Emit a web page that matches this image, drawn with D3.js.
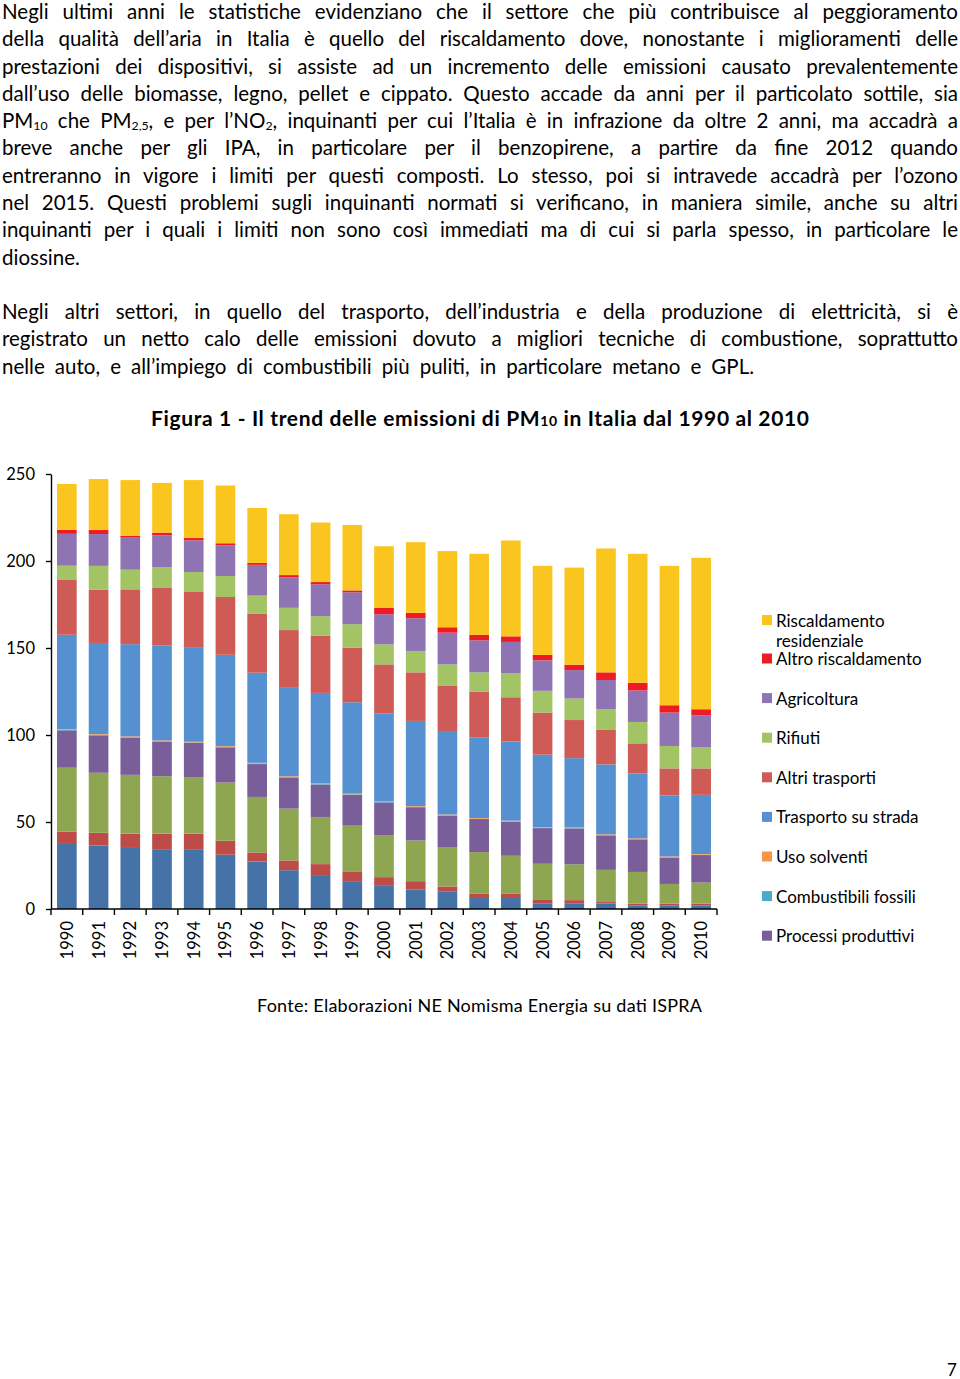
<!DOCTYPE html>
<html>
<head>
<meta charset="utf-8">
<script src="https://cdn.jsdelivr.net/npm/d3@7"></script>
<style>
  body { margin: 0; background: #fff; }
  #page { position: relative; width: 960px; height: 1379px; overflow: hidden; font-family: Lato, "Open Sans", sans-serif; color: #000; }
  .line { position: absolute; left: 2px; font-size: 20.5px; line-height: 20px; text-align: justify; text-align-last: justify; }
  .line.last { text-align-last: left; }
  .line sub { font-size: 0.6em; vertical-align: -0.2em; line-height: 0; }
  svg { position: absolute; left: 0; top: 0; }
  svg text { font-family: Lato, "Open Sans", sans-serif; fill: #000; }
</style>
</head>
<body>
<div id="page"></div>
<script>
// years on the x axis
const years = ["1990","1991","1992","1993","1994","1995","1996","1997","1998","1999","2000",
               "2001","2002","2003","2004","2005","2006","2007","2008","2009","2010"];

// PM10 emissions by sector (kt), bottom of the stack first
// the three bottom series have no entry in the legend of the original
const produzioneEnergia    = [37.9,36.5,35.6,34.0,34.0,31.2,27.3,22.3,19.0,16.0,13.7,11.3,10.2,6.3,6.3,3.3,3.3,3.1,1.9,1.9,1.9];
const combustioneIndustria = [6.5,7.3,7.7,9.3,9.3,8.0,5.2,5.6,6.8,5.3,4.6,4.7,2.7,2.4,2.4,1.9,1.8,0.9,1.2,1.2,1.2];
const altreFonti           = [36.8,34.5,33.8,33.0,32.5,33.5,31.9,29.8,27.1,26.6,24.2,23.4,22.7,24.0,21.9,20.8,20.6,18.5,18.2,11.3,12.1];
const processiProduttivi   = [21.5,21.5,21.4,19.9,19.6,20.2,18.9,17.9,18.6,17.7,18.8,19.1,18.1,19.0,19.6,20.5,20.6,19.8,18.7,15.2,15.8];
const combustibiliFossili  = [0.3,0.3,0.3,0.3,0.3,0.3,0.3,0.3,0.3,0.3,0.2,0.2,0.2,0.2,0.2,0.2,0.2,0.2,0.2,0.2,0.2];
const usoSolventi          = [0.4,0.4,0.4,0.4,0.4,0.4,0.4,0.4,0.4,0.4,0.4,0.4,0.4,0.4,0.4,0.4,0.4,0.4,0.4,0.4,0.4];
const trasportoStrada      = [54.2,52.4,53.0,54.5,54.0,52.5,51.8,50.8,52.0,52.5,50.4,49.0,48.0,46.2,45.5,41.6,39.8,40.2,37.3,35.0,34.0];
const altriTrasporti       = [31.5,30.7,31.5,33.1,32.1,33.2,33.8,33.2,32.8,31.3,28.3,27.9,26.2,26.3,25.4,24.2,21.9,19.8,17.3,15.6,15.2];
const rifiuti              = [8.2,13.6,11.3,12.0,11.5,12.1,10.5,12.8,11.3,13.6,11.5,12.3,12.1,11.2,13.7,12.5,12.4,11.9,12.3,12.9,12.3];
const agricoltura          = [18.3,18.3,18.4,18.3,18.2,17.5,17.7,17.6,18.3,18.3,17.3,18.8,18.2,18.4,18.1,17.5,16.3,16.8,18.1,19.2,18.2];
const altroRiscaldamento   = [2.3,2.3,1.2,1.5,1.3,1.3,1.1,1.2,1.3,1.1,3.6,3.1,3.1,3.1,3.2,3.1,3.1,4.4,4.4,4.2,3.5];
const riscResidenziale     = [26.4,29.3,31.9,28.6,33.3,33.2,31.6,35.0,34.2,37.6,35.5,40.6,43.8,46.6,55.1,51.2,55.8,71.2,74.1,80.1,87.0];

const seriesKeys = ["Produzione energia","Combustione industria","Altre fonti","Processi produttivi",
  "Combustibili fossili","Uso solventi","Trasporto su strada","Altri trasporti","Rifiuti",
  "Agricoltura","Altro riscaldamento","Riscaldamento residenziale"];
const seriesValues = [produzioneEnergia, combustioneIndustria, altreFonti, processiProduttivi,
  combustibiliFossili, usoSolventi, trasportoStrada, altriTrasporti, rifiuti,
  agricoltura, altroRiscaldamento, riscResidenziale];
const seriesColors = ["#4573a8","#bd4c48","#8ea651","#795e9a","#4bacc6","#f79646",
  "#5590d0","#cf5b56","#a2c464","#8e74b3","#ed1c24","#fbc520"];

// legend as in the original (top to bottom)
const legendKeys = ["Riscaldamento residenziale","Altro riscaldamento","Agricoltura","Rifiuti",
  "Altri trasporti","Trasporto su strada","Uso solventi","Combustibili fossili","Processi produttivi"];
const yTicks = [0, 50, 100, 150, 200, 250];

// body text, one entry per printed line
const textLines = [
  {b: 19.5,  w: 956, t: "Negli ultimi anni le statistiche evidenziano che il settore che più contribuisce al peggioramento"},
  {b: 46.3,  w: 956, t: "della qualità dell’aria in Italia è quello del riscaldamento dove, nonostante i miglioramenti delle"},
  {b: 73.6,  w: 956, t: "prestazioni dei dispositivi, si assiste ad un incremento delle emissioni causato prevalentemente"},
  {b: 100.9, w: 956, t: "dall’uso delle biomasse, legno, pellet e cippato. Questo accade da anni per il particolato sottile, sia"},
  {b: 128.2, w: 956, t: "PM<sub>10</sub> che PM<sub>2,5</sub>, e per l’NO<sub>2</sub>, inquinanti per cui l’Italia è in infrazione da oltre 2 anni, ma accadrà a"},
  {b: 155.5, w: 956, t: "breve anche per gli IPA, in particolare per il benzopirene, a partire da fine 2012 quando"},
  {b: 182.8, w: 956, t: "entreranno in vigore i limiti per questi composti. Lo stesso, poi si intravede accadrà per l’ozono"},
  {b: 210.1, w: 956, t: "nel 2015. Questi problemi sugli inquinanti normati si verificano, in maniera simile, anche su altri"},
  {b: 237.4, w: 956, t: "inquinanti per i quali i limiti non sono così immediati ma di cui si parla spesso, in particolare le"},
  {b: 264.7, w: 956, t: "diossine.", last: true},
  {b: 319,   w: 956, t: "Negli altri settori, in quello del trasporto, dell’industria e della produzione di elettricità, si è"},
  {b: 346.5, w: 956, t: "registrato un netto calo delle emissioni dovuto a migliori tecniche di combustione, soprattutto"},
  {b: 374,   w: 752, t: "nelle auto, e all’impiego di combustibili più puliti, in particolare metano e GPL."}
];

const page = d3.select("#page");

page.selectAll("div.line")
  .data(textLines)
  .join("div")
  .attr("class", d => "line" + (d.last ? " last" : ""))
  .style("top", d => (d.b - 18.1) + "px")
  .style("width", d => d.w + "px")
  .html(d => d.t)
  .each(function() {
    // keep every printed line on one row
    let ls = 0;
    while (this.offsetHeight > 26 && ls > -1.5) {
      ls -= 0.05;
      this.style.letterSpacing = ls + "px";
    }
  });

const svg = page.append("svg")
  .attr("width", 960)
  .attr("height", 1379);

// title
const title = svg.append("text")
  .attr("x", 151)
  .attr("y", 426)
  .attr("textLength", 658)
  .attr("lengthAdjust", "spacing")
  .style("font-size", "21px")
  .style("font-weight", "bold");
title.append("tspan").text("Figura 1 - Il trend delle emissioni di PM");
title.append("tspan").style("font-size", "14px").text("10");
title.append("tspan").text(" in Italia dal 1990 al 2010");

// scales
const x = d3.scaleBand()
  .domain(years)
  .range([51, 717])
  .paddingInner(0.38)
  .paddingOuter(0.19);

const y = d3.scaleLinear()
  .domain([0, 250])
  .range([909, 474]);

const table = years.map((yr, i) => {
  const row = {year: yr};
  seriesKeys.forEach((k, j) => { row[k] = seriesValues[j][i]; });
  return row;
});

const stack = d3.stack().keys(seriesKeys)(table);
const color = d3.scaleOrdinal().domain(seriesKeys).range(seriesColors);

svg.append("g")
  .selectAll("g")
  .data(stack)
  .join("g")
  .attr("fill", d => color(d.key))
  .selectAll("rect")
  .data(d => d)
  .join("rect")
  .attr("x", d => x(d.data.year))
  .attr("width", x.bandwidth())
  .attr("y", d => y(d[1]))
  .attr("height", d => y(d[0]) - y(d[1]));

// y axis
const yAxis = svg.append("g")
  .attr("transform", "translate(51,0)")
  .call(d3.axisLeft(y).tickValues(yTicks).tickSize(5).tickSizeOuter(0).tickPadding(11));
yAxis.select(".domain").attr("stroke", "#000").attr("stroke-width", 1.4);
yAxis.selectAll(".tick line").attr("stroke", "#000").attr("stroke-width", 1.4);
yAxis.selectAll(".tick text")
  .style("font-size", "16.5px")
  .style("font-family", "Lato, sans-serif")
  .attr("fill", "#000");

// x axis: line, boundary ticks, rotated year labels
const xg = svg.append("g");
xg.append("line")
  .attr("x1", x.range()[0]).attr("x2", x.range()[1])
  .attr("y1", y(0)).attr("y2", y(0))
  .attr("stroke", "#000").attr("stroke-width", 1.4);

const boundaries = d3.range(years.length + 1).map(i => x.range()[0] + i * x.step());
xg.selectAll("line.tick")
  .data(boundaries)
  .join("line")
  .attr("class", "tick")
  .attr("x1", d => d).attr("x2", d => d)
  .attr("y1", y(0)).attr("y2", y(0) + 6)
  .attr("stroke", "#000").attr("stroke-width", 1.4);

xg.selectAll("text")
  .data(years)
  .join("text")
  .attr("transform", d => `translate(${x(d) + x.bandwidth() / 2},${y(0) + 12}) rotate(-90)`)
  .attr("text-anchor", "end")
  .attr("dominant-baseline", "central")
  .style("font-size", "16.5px")
  .text(d => d);

// legend
const legendY = i => i === 0 ? 626.5 : 665 + 39.6 * (i - 1);
const lg = svg.append("g")
  .selectAll("g")
  .data(legendKeys)
  .join("g")
  .attr("transform", (d, i) => `translate(762,${legendY(i)})`);

lg.append("rect")
  .attr("x", 0)
  .attr("y", -11.5)
  .attr("width", 10)
  .attr("height", 10)
  .attr("fill", d => color(d));

lg.append("text")
  .attr("x", 14)
  .style("font-size", "17px")
  .each(function(d) {
    const parts = d === "Riscaldamento residenziale" ? ["Riscaldamento", "residenziale"] : [d];
    d3.select(this).selectAll("tspan")
      .data(parts)
      .join("tspan")
      .attr("x", 14)
      .attr("dy", (p, i) => i === 0 ? 0 : 20)
      .text(p => p);
  });

// source and page number
svg.append("text")
  .attr("x", 257)
  .attr("y", 1012)
  .attr("textLength", 445)
  .attr("lengthAdjust", "spacing")
  .style("font-size", "18px")
  .text("Fonte: Elaborazioni NE Nomisma Energia su dati ISPRA");

svg.append("text")
  .attr("x", 952)
  .attr("y", 1376)
  .attr("text-anchor", "middle")
  .style("font-size", "17px")
  .text("7");
</script>
</body>
</html>
